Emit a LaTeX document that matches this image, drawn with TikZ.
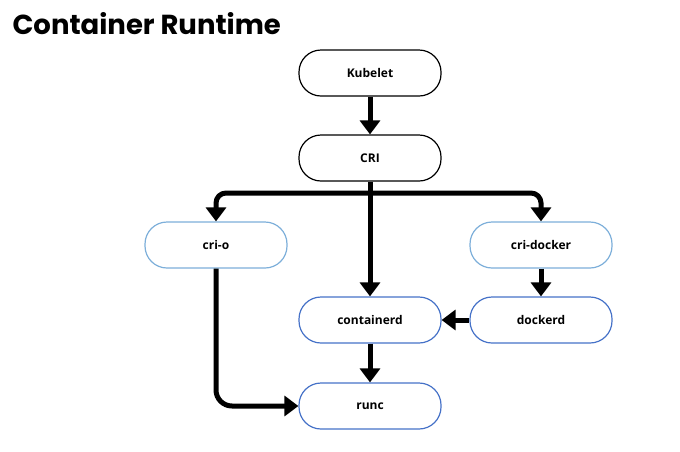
\documentclass[tikz,border=0pt]{standalone}
\usepackage{fontspec}
\setmainfont{Open Sans}
\newfontfamily\titlefont{Poppins}
\usepackage{tikz}
\usetikzlibrary{arrows.meta,calc,positioning}
\definecolor{lightblue}{RGB}{125,175,218}
\definecolor{darkblue}{RGB}{70,114,200}
\tikzset{
  pill/.style={draw=#1, line width=1.2pt, rounded corners=22pt, minimum width=142pt,
    minimum height=46pt, fill=white, font=\fontsize{12}{14}\selectfont\bfseries},
  flow/.style={line width=5pt, -{Triangle[length=14pt,width=20pt]}}
}
\begin{document}
\begin{tikzpicture}[x=1pt,y=-1pt]
            \useasboundingbox (0,0) rectangle (680,451);
            \node[anchor=base west, font=\titlefont\fontsize{27.5}{31}\selectfont\bfseries] (title) at (9,34) {Container Runtime};
            % boxes
            \node[pill=black] (kubelet) at (370,73) {Kubelet};
            \node[pill=black] (cri) at (370,158) {CRI};
            \node[pill=lightblue] (crio) at (216,245) {cri-o};
            \node[pill=lightblue] (cridocker) at (541,245) {cri-docker};
            \node[pill=darkblue] (containerd) at (370,320) {containerd};
            \node[pill=darkblue] (dockerd) at (541,320) {dockerd};
            \node[pill=darkblue] (runc) at (370,406) {runc};
            \coordinate (bus) at (370,193);
            % arrows
            \draw[flow] (kubelet) -- (cri);
            \draw[flow] (cri) -- (containerd);
            \draw[flow, rounded corners=10pt] (bus) -| (crio.north);
            \draw[flow, rounded corners=10pt] (bus) -| (cridocker.north);
            \draw[flow] (cridocker) -- (dockerd);
            \draw[flow] (dockerd) -- (containerd);
            \draw[flow] (containerd) -- (runc);
            \draw[flow, rounded corners=16pt] (crio.south) |- (runc.west);
          \end{tikzpicture}
\end{document}
